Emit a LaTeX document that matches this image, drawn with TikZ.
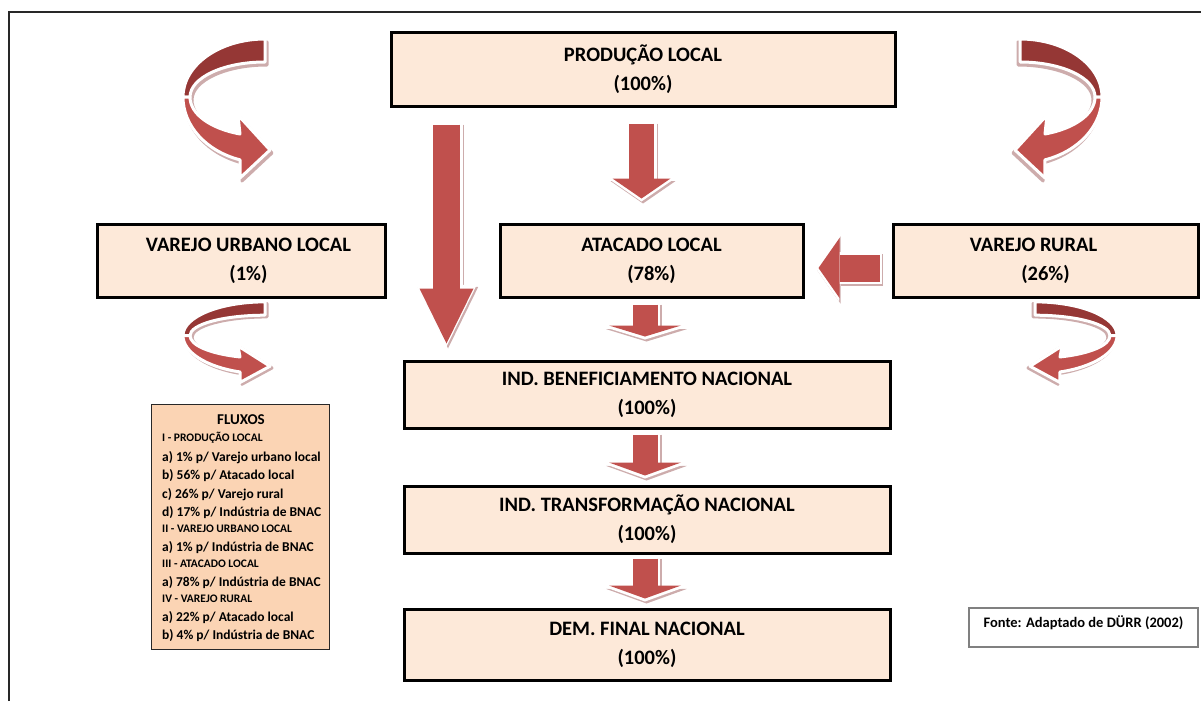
\documentclass[tikz,border=0pt]{standalone}
\usepackage{fontspec}
\setmainfont{Carlito}
\usetikzlibrary{arrows.meta,calc}
\definecolor{boxfill}{HTML}{FDE9D9}
\definecolor{fluxfill}{HTML}{FBD4B4}
\definecolor{arrowred}{HTML}{C0504D}
\definecolor{arrowdark}{HTML}{953735}
\definecolor{shadowc}{RGB}{205,172,172}
\definecolor{framec}{RGB}{40,40,40}
\newcommand\boxfont{\fontsize{20.5}{29}\selectfont\bfseries}

\begin{document}
\begin{tikzpicture}[
  x=1pt, y=-1pt,
  box/.style={draw=black, line width=3pt, fill=boxfill, font=\boxfont, align=center, inner sep=0pt},
  fluxitem/.style={anchor=base west, inner sep=0pt, font=\fontsize{13.5}{16}\selectfont\bfseries},
  fluxhdr/.style={anchor=base west, inner sep=0pt, font=\fontsize{11.5}{14}\selectfont\bfseries},
  blockarrow/.style n args={3}{
    draw=arrowred, line width=#1, -{Triangle[width=#2, length=#3, line width=0pt]},
    preaction={draw=shadowc, line width=#1+5pt, transform canvas={shift={(1.5pt,-2pt)}},
      -{Triangle[width=#2, length=#3, line width=0pt, scale=1.12]}, shorten >=-3pt, shorten <=-2pt},
    preaction={draw=white, line width=#1+5pt,
      -{Triangle[width=#2, length=#3, line width=0pt, scale=1.12]}, shorten >=-3pt, shorten <=-2pt}},
  pics/curved/.style={code={
    \def\upperband{(0,-58) arc[start angle=-90, end angle=-180, x radius=82, y radius=58]
      -- (-75,0) arc[start angle=180, end angle=270, x radius=75, y radius=35] -- cycle}
    \def\lowerband{(-82,0) arc[start angle=180, end angle=107.7, x radius=82, y radius=66]
      -- (-25,81) -- (5,53) -- (-27,18) -- (-25,37)
      arc[start angle=109.5, end angle=180, x radius=75, y radius=39] -- cycle}
    % shadow first, then the two bands with a white rim
    \begin{scope}[shift={(2,3)}]
      \filldraw[shadowc, line width=3pt, line join=round] \upperband;
      \filldraw[shadowc, line width=3pt, line join=round] \lowerband;
    \end{scope}
    \filldraw[fill=arrowdark, draw=white, line width=3pt, line join=round] \upperband;
    \filldraw[fill=arrowred, draw=white, line width=3pt, line join=round] \lowerband;
  }},
]
  \useasboundingbox (0,0) rectangle (1201,701);
  % outer frame (only top and left edges show)
  \draw[framec, line width=1.5pt] (9,701) -- (9,12) -- (1201,12);

  % boxes
  \node[box, minimum width=504, minimum height=73] (prod)   at (643,69.5)    {PRODUÇÃO LOCAL\\(100\%)};
  \node[box, minimum width=288, minimum height=73] (urbano) at (241,260.5)   {\hspace*{15pt}VAREJO URBANO LOCAL\\\hspace*{15pt}(1\%)};
  \node[box, minimum width=303, minimum height=73] (atac)   at (651.5,260.5) {ATACADO LOCAL\\(78\%)};
  \node[box, minimum width=305, minimum height=73] (rural)  at (1045.5,260.5){VAREJO RURAL\hspace*{24pt}\\(26\%)\hspace*{0pt}};
  \node[box, minimum width=486, minimum height=67] (benef)  at (647,394.5)   {IND. BENEFICIAMENTO NACIONAL\\(100\%)};
  \node[box, minimum width=486, minimum height=67] (transf) at (647,519.5)   {IND. TRANSFORMAÇÃO NACIONAL\\(100\%)};
  \node[box, minimum width=486, minimum height=71] (dem)    at (647,644.5)   {DEM. FINAL NACIONAL\\(100\%)};

  % straight block arrows
  \draw[blockarrow={27pt}{54pt}{55pt}] ($(prod.south west)+(57,17)$) -- ($(benef.north west)+(44,-16)$);
  \draw[blockarrow={25pt}{58pt}{20pt}] ($(prod.south)+(-1.5,16)$) -- ($(atac.north)+(-10,-24)$);
  \draw[blockarrow={27pt}{60pt}{21pt}] ($(rural.west)+(-12,7.5)$) -- ($(atac.east)+(14,7.5)$);
  \draw[blockarrow={25pt}{72pt}{11pt}] ($(atac.south)+(-6.5,6)$) -- ($(benef.north)+(-2,-23)$);
  \draw[blockarrow={25pt}{72pt}{13pt}] ($(benef.south)+(-2,5)$) -- ($(transf.north)+(-2,-9)$);
  \draw[blockarrow={25pt}{72pt}{13pt}] ($(transf.south)+(-2,4)$) -- ($(dem.north)+(-2,-9)$);

  % curved arrows
  \pic at (265,97) {curved};
  \pic[xscale=-1] at (1020,97) {curved};
  \pic[yscale=0.58] at (265,335.5) {curved};
  \pic[xscale=-1, yscale=0.58] at (1035,335.5) {curved};

  % legend of flows
  \node[draw=framec, line width=0.8pt, fill=fluxfill, minimum width=178, minimum height=245] (fluxos) at (240,526.5) {};
  \node[font=\fontsize{15}{18}\selectfont\bfseries, anchor=base, inner sep=0pt] (fluxtit) at (241,424) {FLUXOS};
  \foreach \y/\t [count=\k] in {441/{I - PRODUÇÃO LOCAL}, 532/{II - VAREJO URBANO LOCAL}, 567/{III - ATACADO LOCAL}, 602/{IV - VAREJO RURAL}}
    \node[fluxhdr] (fluxh\k) at (162,\y) {\t};
  \foreach \y/\t [count=\k] in {461/{a) 1\% p/ Varejo urbano local}, 479/{b) 56\% p/ Atacado local},
      498/{c) 26\% p/ Varejo rural}, 516/{d) 17\% p/ Indústria de BNAC}, 551/{a) 1\% p/ Indústria de BNAC},
      586/{a) 78\% p/ Indústria de BNAC}, 621/{a) 22\% p/ Atacado local}, 639/{b) 4\% p/ Indústria de BNAC}}
    \node[fluxitem] (fluxi\k) at (162,\y) {\t};

  % source
  \node[draw=gray, line width=1.3pt, fill=white, minimum width=229, inner ysep=0pt,
        text height=19.5pt, text depth=19.5pt, font=\fontsize{14.5}{17}\selectfont\bfseries] (fonte)
        at (1083.5,627.5) {Fonte: Adaptado de DÜRR (2002)};
\end{tikzpicture}
\end{document}
